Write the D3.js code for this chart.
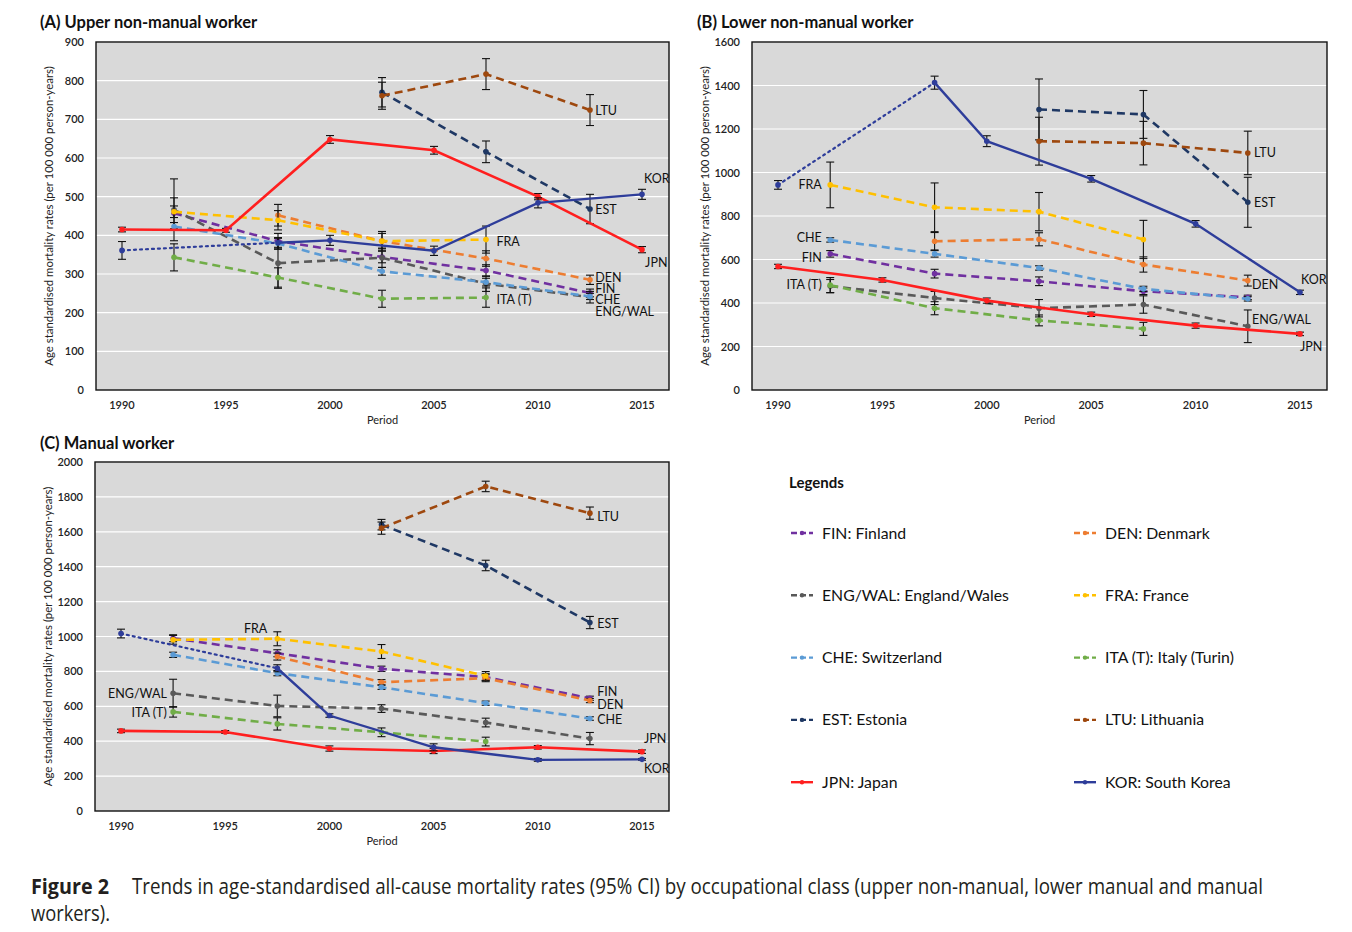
<!DOCTYPE html>
<html>
<head>
<meta charset="utf-8">
<script src="https://cdn.jsdelivr.net/npm/d3@7"></script>
<style>
  body { margin: 0; background: #fff; }
  svg { font-family: Lato, "Open Sans", sans-serif; }
</style>
</head>
<body>
<div id="chart"></div>
<script>
// periods (mid-points of the 5-year windows)
var periods = [1990, 1992.5, 1995, 1997.5, 2000, 2002.5, 2005, 2007.5, 2010, 2012.5, 2015];
var xTicks = [1990, 1995, 2000, 2005, 2010, 2015];

var codes = ["FIN", "DEN", "ENG/WAL", "FRA", "CHE", "ITA (T)", "EST", "LTU", "JPN", "KOR"];
var names = ["Finland", "Denmark", "England/Wales", "France", "Switzerland", "Italy (Turin)", "Estonia", "Lithuania", "Japan", "South Korea"];
var colors = ["#7030A0", "#ED7D31", "#595959", "#FFC000", "#5B9BD5", "#70AD47", "#1F3864", "#9E480E", "#FF1F1F", "#2E3D9A"];

// (A) upper non-manual: rates, then 95% CI half widths
var upFIN = [null, 457, null, 385, null, 344, null, 309, null, 251, null];
var upDEN = [null, null, null, 452, null, 385, null, 340, null, 285, null];
var upENG = [null, 466, null, 328, null, 342, null, 275, null, 240, null];
var upFRA = [null, 461, null, 439, null, 385, null, 389, null, null, null];
var upCHE = [null, 423, null, 379, null, 307, null, 279, null, 242, null];
var upITA = [null, 343, null, 291, null, 236, null, 239, null, null, null];
var upEST = [null, null, null, null, null, 770, null, 616, null, 468, null];
var upLTU = [null, null, null, null, null, 761, null, 817, null, 724, null];
var upJPN = [415, null, 413, null, 648, null, 620, null, 500, null, 363];
var upKOR = [361, null, null, 381, 387, null, 360, null, 484, null, 506];
var upFINci = [null, 40, null, 20, null, 15, null, 15, null, 10, null];
var upDENci = [null, null, null, 28, null, 25, null, 20, null, 12, null];
var upENGci = [null, 80, null, 65, null, 25, null, 20, null, 15, null];
var upFRAci = [null, 15, null, 25, null, 20, null, 35, null, null, null];
var upCHEci = [null, 10, null, 15, null, 10, null, 10, null, 8, null];
var upITAci = [null, 35, null, 25, null, 22, null, 25, null, null, null];
var upESTci = [null, null, null, null, null, 38, null, 28, null, 38, null];
var upLTUci = [null, null, null, null, null, 35, null, 40, null, 40, null];
var upJPNci = [6, null, 5, null, 10, null, 10, null, 8, null, 8];
var upKORci = [23, null, null, 12, 13, null, 12, null, 13, null, 13];

// (B) lower non-manual
var loFIN = [null, 626, null, 535, null, 500, null, 454, null, 426, null];
var loDEN = [null, null, null, 684, null, 693, null, 577, null, 503, null];
var loENG = [null, 478, null, 423, null, 376, null, 393, null, 293, null];
var loFRA = [null, 943, null, 840, null, 820, null, 692, null, null, null];
var loCHE = [null, 690, null, 626, null, 561, null, 465, null, 419, null];
var loITA = [null, 482, null, 376, null, 320, null, 281, null, null, null];
var loEST = [null, null, null, null, null, 1290, null, 1267, null, 863, null];
var loLTU = [null, null, null, null, null, 1144, null, 1135, null, 1090, null];
var loJPN = [568, null, 506, null, 411, null, 348, null, 296, null, 258];
var loKOR = [943, null, null, 1413, 1144, null, 971, null, 764, null, 449];
var loFINci = [null, 15, null, 20, null, 20, null, 15, null, 10, null];
var loDENci = [null, null, null, 40, null, 30, null, 35, null, 25, null];
var loENGci = [null, 30, null, 30, null, 40, null, 40, null, 75, null];
var loFRAci = [null, 105, null, 112, null, 88, null, 88, null, null, null];
var loCHEci = [null, 10, null, 15, null, 10, null, 12, null, 10, null];
var loITAci = [null, 35, null, 30, null, 25, null, 30, null, null, null];
var loESTci = [null, null, null, null, null, 140, null, 110, null, 115, null];
var loLTUci = [null, null, null, null, null, 110, null, 100, null, 100, null];
var loJPNci = [10, null, 10, null, 12, null, 10, null, 12, null, 8];
var loKORci = [20, null, null, 30, 25, null, 15, null, 15, null, 10];

// (C) manual
var maFIN = [null, 990, null, 904, null, 815, null, 767, null, 646, null];
var maDEN = [null, null, null, 885, null, 738, null, 761, null, 633, null];
var maENG = [null, 675, null, 602, null, 587, null, 507, null, 415, null];
var maFRA = [null, 981, null, 987, null, 914, null, 774, null, null, null];
var maCHE = [null, 895, null, 790, null, 709, null, 618, null, 530, null];
var maITA = [null, 568, null, 499, null, 451, null, 398, null, null, null];
var maEST = [null, null, null, null, null, 1641, null, 1407, null, 1080, null];
var maLTU = [null, null, null, null, null, 1621, null, 1860, null, 1707, null];
var maJPN = [459, null, 453, null, 358, null, 344, null, 365, null, 340];
var maKOR = [1017, null, null, 818, 547, null, 365, null, 293, null, 296];
var maFINci = [null, 20, null, 20, null, 15, null, 20, null, 12, null];
var maDENci = [null, null, null, 20, null, 15, null, 20, null, 12, null];
var maENGci = [null, 80, null, 62, null, 22, null, 25, null, 35, null];
var maFRAci = [null, 25, null, 40, null, 40, null, 25, null, null, null];
var maCHEci = [null, 15, null, 15, null, 12, null, 12, null, 10, null];
var maITAci = [null, 30, null, 35, null, 25, null, 25, null, null, null];
var maESTci = [null, null, null, null, null, 30, null, 30, null, 35, null];
var maLTUci = [null, null, null, null, null, 35, null, 30, null, 35, null];
var maJPNci = [10, null, 8, null, 15, null, 15, null, 10, null, 10];
var maKORci = [25, null, null, 20, 10, null, 20, null, 8, null, 5];

// direct labels: [text, period, rate, anchor]
var upLabels = [["LTU", 2012.75, 722, "start"], ["KOR", 2015.1, 548, "start"], ["EST", 2012.75, 468, "start"],
  ["FRA", 2008, 385, "start"], ["JPN", 2015.15, 331, "start"], ["DEN", 2012.75, 291, "start"],
  ["FIN", 2012.75, 263, "start"], ["CHE", 2012.75, 235, "start"], ["ENG/WAL", 2012.75, 204, "start"],
  ["ITA (T)", 2008, 233, "start"]];
var loLabels = [["FRA", 1992.1, 947, "end"], ["CHE", 1992.1, 699, "end"], ["FIN", 1992.1, 611, "end"],
  ["ITA (T)", 1992.1, 483, "end"], ["LTU", 2012.8, 1090, "start"], ["EST", 2012.8, 860, "start"],
  ["KOR", 2015.05, 506, "start"], ["DEN", 2012.7, 483, "start"], ["ENG/WAL", 2012.7, 322, "start"],
  ["JPN", 2015.0, 202, "start"]];
var maLabels = [["FRA", 1995.9, 1043, "start"], ["ENG/WAL", 1992.2, 676, "end"], ["ITA (T)", 1992.2, 567, "end"],
  ["LTU", 2012.85, 1690, "start"], ["EST", 2012.85, 1072, "start"], ["FIN", 2012.85, 684, "start"],
  ["DEN", 2012.85, 612, "start"], ["CHE", 2012.85, 527, "start"], ["JPN", 2015.1, 413, "start"],
  ["KOR", 2015.1, 241, "start"]];

var svg = d3.select("#chart").append("svg")
    .attr("width", 1352)
    .attr("height", 932);

function drawPanel(p) {
    var x = d3.scaleLinear().domain([1990, 2015]).range([p.left + 26, p.right - 27]);
    var y = d3.scaleLinear().domain([0, p.max]).range([p.bottom, p.top]);
    var g = svg.append("g");

    g.append("text").attr("x", p.titleX).attr("y", p.titleY)
        .attr("font-size", 16.5).attr("font-weight", "bold").attr("fill", "#111")
        .text(p.title);

    g.append("rect").attr("x", p.left).attr("y", p.top)
        .attr("width", p.right - p.left).attr("height", p.bottom - p.top)
        .attr("fill", "#D9D9D9");

    var yt = d3.range(0, p.max + 1, p.step);
    g.selectAll(".grid").data(yt.slice(1)).enter().append("line")
        .attr("x1", p.left).attr("x2", p.right)
        .attr("y1", function(d) { return y(d); }).attr("y2", function(d) { return y(d); })
        .attr("stroke", "#fff").attr("stroke-width", 1.2);

    g.selectAll(".ytl").data(yt).enter().append("text")
        .attr("x", p.left - 12).attr("y", function(d) { return y(d) + 4; })
        .attr("text-anchor", "end").attr("font-size", 11).attr("font-weight", 600).attr("fill", "#222")
        .text(function(d) { return d; });

    g.selectAll(".xtl").data(xTicks).enter().append("text")
        .attr("x", function(d) { return x(d); }).attr("y", p.bottom + 19)
        .attr("text-anchor", "middle").attr("font-size", 11).attr("font-weight", 600).attr("fill", "#222")
        .text(function(d) { return d; });

    g.append("text").attr("x", (p.left + p.right) / 2).attr("y", p.bottom + 34)
        .attr("text-anchor", "middle").attr("font-size", 11).attr("fill", "#222").text("Period");

    g.append("text")
        .attr("transform", "translate(" + (p.left - 43) + "," + ((p.top + p.bottom) / 2) + ") rotate(-90)")
        .attr("text-anchor", "middle").attr("font-size", 11.4).attr("fill", "#222")
        .text("Age standardised mortality rates (per 100 000 person-years)");

    var line = d3.line().x(function(d) { return x(d.t); }).y(function(d) { return y(d.v); });

    p.series.forEach(function(vals, i) {
        var pts = [];
        vals.forEach(function(v, j) {
            if (v != null) pts.push({t: periods[j], v: v, ci: p.ci[i][j]});
        });
        var col = colors[i];
        var solid = codes[i] == "JPN" || codes[i] == "KOR";

        // error bars
        pts.forEach(function(d) {
            if (!d.ci) return;
            var eb = g.append("g").attr("stroke", "#111").attr("stroke-width", 1.1);
            eb.append("line").attr("x1", x(d.t)).attr("x2", x(d.t))
                .attr("y1", y(d.v - d.ci)).attr("y2", y(d.v + d.ci));
            [d.v - d.ci, d.v + d.ci].forEach(function(e) {
                eb.append("line").attr("x1", x(d.t) - 4).attr("x2", x(d.t) + 4)
                    .attr("y1", y(e)).attr("y2", y(e));
            });
        });

        if (codes[i] == "KOR") {
            // first stretch (1990 to next point) dotted
            g.append("path").datum(pts.slice(0, 2)).attr("d", line)
                .attr("fill", "none").attr("stroke", col).attr("stroke-width", 2.2)
                .attr("stroke-dasharray", "2,4").attr("stroke-linecap", "round");
            g.append("path").datum(pts.slice(1)).attr("d", line)
                .attr("fill", "none").attr("stroke", col).attr("stroke-width", 2.4);
        } else {
            g.append("path").datum(pts).attr("d", line)
                .attr("fill", "none").attr("stroke", col).attr("stroke-width", 2.6)
                .attr("stroke-dasharray", solid ? null : "8,5");
        }

        g.selectAll(null).data(pts).enter().append("circle")
            .attr("cx", function(d) { return x(d.t); })
            .attr("cy", function(d) { return y(d.v); })
            .attr("r", 2.8).attr("fill", col);
    });

    g.append("rect").attr("x", p.left).attr("y", p.top)
        .attr("width", p.right - p.left).attr("height", p.bottom - p.top)
        .attr("fill", "none").attr("stroke", "#111").attr("stroke-width", 1.4);

    g.selectAll(".lab").data(p.labels).enter().append("text")
        .attr("x", function(d) { return x(d[1]); })
        .attr("y", function(d) { return y(d[2]) + 4.5; })
        .attr("text-anchor", function(d) { return d[3]; })
        .attr("font-size", 12.5).attr("fill", "#111")
        .text(function(d) { return d[0]; });
}

drawPanel({
    left: 96, right: 669, top: 42, bottom: 390, max: 900, step: 100,
    title: "(A) Upper non-manual worker", titleX: 40, titleY: 28,
    series: [upFIN, upDEN, upENG, upFRA, upCHE, upITA, upEST, upLTU, upJPN, upKOR],
    ci: [upFINci, upDENci, upENGci, upFRAci, upCHEci, upITAci, upESTci, upLTUci, upJPNci, upKORci],
    labels: upLabels
});
drawPanel({
    left: 752, right: 1327, top: 42, bottom: 390, max: 1600, step: 200,
    title: "(B) Lower non-manual worker", titleX: 697, titleY: 28,
    series: [loFIN, loDEN, loENG, loFRA, loCHE, loITA, loEST, loLTU, loJPN, loKOR],
    ci: [loFINci, loDENci, loENGci, loFRAci, loCHEci, loITAci, loESTci, loLTUci, loJPNci, loKORci],
    labels: loLabels
});
drawPanel({
    left: 95, right: 669, top: 462, bottom: 811, max: 2000, step: 200,
    title: "(C) Manual worker", titleX: 40, titleY: 449,
    series: [maFIN, maDEN, maENG, maFRA, maCHE, maITA, maEST, maLTU, maJPN, maKOR],
    ci: [maFINci, maDENci, maENGci, maFRAci, maCHEci, maITAci, maESTci, maLTUci, maJPNci, maKORci],
    labels: maLabels
});

// legend
var leg = svg.append("g");
leg.append("text").attr("x", 789).attr("y", 488).attr("font-size", 15).attr("font-weight", "bold")
    .attr("fill", "#111").text("Legends");
codes.forEach(function(c, i) {
    var col = i % 2, row = Math.floor(i / 2);
    var lx = col == 0 ? 791 : 1074, ly = 533 + row * 62.3;
    var solid = c == "JPN" || c == "KOR";
    leg.append("line").attr("x1", lx).attr("x2", lx + 22).attr("y1", ly).attr("y2", ly)
        .attr("stroke", colors[i]).attr("stroke-width", 2.4)
        .attr("stroke-dasharray", solid ? null : "6,3");
    leg.append("circle").attr("cx", lx + 11).attr("cy", ly).attr("r", 2.2).attr("fill", colors[i]);
    leg.append("text").attr("x", lx + 31).attr("y", ly + 5.5).attr("font-size", 15.8).attr("fill", "#111")
        .text(c + ": " + names[i]);
});

// caption
var cap = svg.append("g").attr("fill", "#231f20")
    .style("font-family", "'Liberation Sans Narrow', 'Open Sans', sans-serif");
cap.append("text").attr("x", 31).attr("y", 894).attr("font-size", 21).attr("font-weight", "bold")
    .attr("textLength", 78).attr("lengthAdjust", "spacingAndGlyphs").text("Figure 2");
cap.append("text").attr("x", 132).attr("y", 894).attr("font-size", 21)
    .attr("textLength", 1131).attr("lengthAdjust", "spacingAndGlyphs")
    .text("Trends in age-standardised all-cause mortality rates (95% CI) by occupational class (upper non-manual, lower manual and manual");
cap.append("text").attr("x", 31).attr("y", 921).attr("font-size", 21)
    .attr("textLength", 79).attr("lengthAdjust", "spacingAndGlyphs").text("workers).");
</script>
</body>
</html>
